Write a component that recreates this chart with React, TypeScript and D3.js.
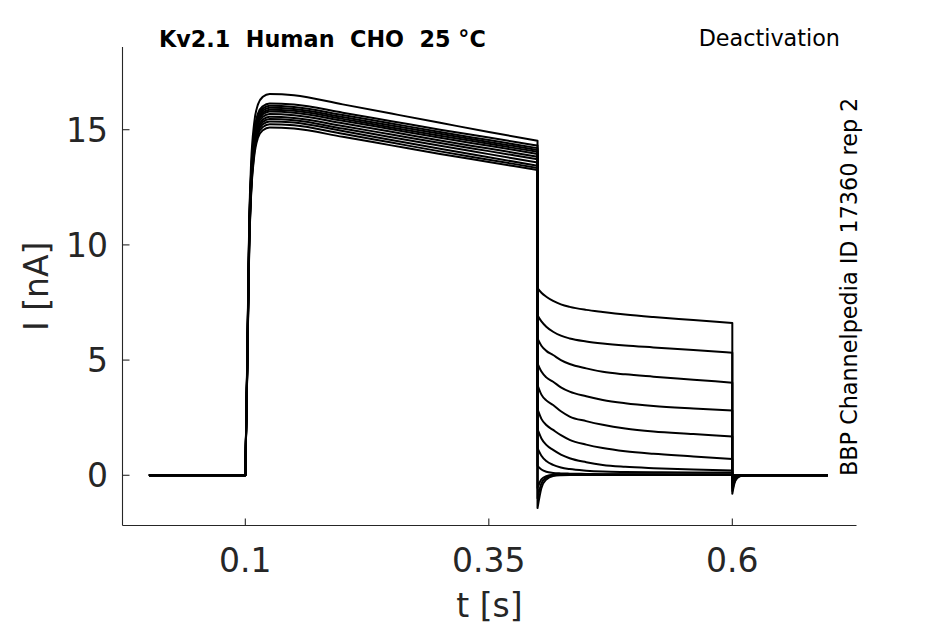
import * as d3 from 'd3';
import React from 'react';

// sweep protocol times (s)
const baseTimes = [0.001, 0.1];
const actTimes = [0.1, 0.102, 0.104, 0.106, 0.109, 0.113, 0.118, 0.125, 0.15, 0.2, 0.25, 0.3, 0.35, 0.4];
const tailTimes = [0.4, 0.404, 0.409, 0.416, 0.424, 0.433, 0.45, 0.467, 0.49, 0.519, 0.56, 0.6];
const postTimes = [0.6, 0.602, 0.605, 0.61, 0.62, 0.698];

// currents in nA, one row per sweep
const baseCurrents = [0, 0];
const actCurrents = [
  [0, 5.2, 11.0, 13.6, 15.25, 16.1, 16.43, 16.55, 16.5, 16.1, 15.7, 15.3, 14.9, 14.52],
  [0, 5.0, 10.8, 13.2, 14.85, 15.7, 16.02, 16.14, 16.09, 15.74, 15.37, 15.0, 14.66, 14.31],
  [0, 5.0, 10.7, 13.1, 14.75, 15.6, 15.92, 16.04, 15.99, 15.64, 15.27, 14.9, 14.55, 14.2],
  [0, 4.9, 10.6, 13.0, 14.65, 15.5, 15.83, 15.95, 15.9, 15.55, 15.18, 14.82, 14.47, 14.12],
  [0, 4.9, 10.5, 12.9, 14.57, 15.42, 15.75, 15.87, 15.82, 15.47, 15.1, 14.74, 14.39, 14.04],
  [0, 4.8, 10.4, 12.8, 14.49, 15.34, 15.67, 15.79, 15.74, 15.39, 15.02, 14.65, 14.3, 13.95],
  [0, 4.8, 10.3, 12.7, 14.38, 15.23, 15.56, 15.68, 15.63, 15.28, 14.91, 14.53, 14.18, 13.83],
  [0, 4.7, 10.2, 12.6, 14.26, 15.11, 15.44, 15.56, 15.51, 15.16, 14.79, 14.42, 14.07, 13.72],
  [0, 4.7, 10.1, 12.5, 14.16, 15.01, 15.34, 15.46, 15.41, 15.05, 14.67, 14.3, 13.94, 13.58],
  [0, 4.6, 10.0, 12.4, 14.06, 14.91, 15.24, 15.36, 15.31, 14.94, 14.55, 14.17, 13.8, 13.44],
  [0, 4.6, 9.9, 12.3, 13.94, 14.79, 15.12, 15.24, 15.19, 14.82, 14.44, 14.06, 13.7, 13.34],
  [0, 4.5, 9.8, 12.2, 13.8, 14.65, 14.98, 15.1, 15.05, 14.69, 14.32, 13.95, 13.6, 13.25],
];
const tailCurrents = [
  [8.12, 7.92, 7.75, 7.57, 7.42, 7.31, 7.18, 7.09, 6.98, 6.87, 6.74, 6.61],
  [6.95, 6.68, 6.45, 6.23, 6.06, 5.94, 5.81, 5.72, 5.63, 5.55, 5.44, 5.32],
  [5.94, 5.62, 5.4, 5.22, 5.0, 4.83, 4.64, 4.49, 4.38, 4.28, 4.15, 4.02],
  [4.86, 4.5, 4.25, 4.06, 3.82, 3.63, 3.43, 3.27, 3.13, 3.01, 2.9, 2.81],
  [3.92, 3.5, 3.25, 3.05, 2.78, 2.55, 2.35, 2.19, 2.03, 1.9, 1.79, 1.68],
  [2.87, 2.45, 2.18, 1.97, 1.74, 1.54, 1.33, 1.18, 1.04, 0.93, 0.82, 0.71],
  [2.0, 1.6, 1.32, 1.1, 0.9, 0.74, 0.57, 0.45, 0.37, 0.31, 0.25, 0.21],
  [1.18, 0.85, 0.62, 0.45, 0.34, 0.27, 0.2, 0.16, 0.14, 0.13, 0.12, 0.12],
  [0.41, 0.25, 0.15, 0.1, 0.08, 0.07, 0.06, 0.05, 0.05, 0.05, 0.05, 0.05],
  [-0.55, -0.18, -0.04, 0.02, 0.03, 0.03, 0.03, 0.03, 0.03, 0.03, 0.02, 0.02],
  [-1.0, -0.35, -0.1, 0.0, 0.02, 0.02, 0.02, 0.02, 0.02, 0.02, 0.02, 0.02],
  [-1.42, -0.55, -0.18, -0.03, 0.0, 0.01, 0.01, 0.01, 0.01, 0.01, 0.01, 0.01],
];
const postCurrents = [
  [-0.8, -0.38, -0.12, -0.02, 0, 0],
  [-0.68, -0.3, -0.1, -0.02, 0, 0],
  [-0.55, -0.25, -0.08, -0.01, 0, 0],
  [-0.42, -0.18, -0.06, 0, 0, 0],
  [-0.3, -0.12, -0.04, 0, 0, 0],
  [-0.2, -0.08, -0.02, 0, 0, 0],
  [-0.1, -0.04, 0, 0, 0, 0],
  [-0.05, -0.02, 0, 0, 0, 0],
  [0, 0, 0, 0, 0, 0],
  [0, 0, 0, 0, 0, 0],
  [0, 0, 0, 0, 0, 0],
  [0, 0, 0, 0, 0, 0],
];

const xTicks = [0.1, 0.35, 0.6];
const yTicks = [0, 5, 10, 15];

const W = 945;
const H = 624;
const left = 122.5;
const right = 856.5;
const top = 47;
const bottom = 525.5;
const axisColor = '#262626';
const font = '"DejaVu Sans", sans-serif';

const App: React.FC = () => {
  const x = d3.scaleLinear().domain([-0.0261, 0.7275]).range([left, right]);
  const y = d3.scaleLinear().domain([-2.18, 18.59]).range([bottom, top]);

  const line = d3
    .line<[number, number]>()
    .x((d) => x(d[0]))
    .y((d) => y(d[1]))
    .curve(d3.curveMonotoneX);

  const seg = (ts: number[], vs: number[]) =>
    line(ts.map((t, i) => [t, vs[i]] as [number, number])) || '';

  const paths = actCurrents.map((act, i) =>
    [
      seg(baseTimes, baseCurrents),
      seg(actTimes, act),
      seg(tailTimes, tailCurrents[i]),
      seg(postTimes, postCurrents[i]),
    ]
      .map((s, k) => (k ? s.replace(/^M/, 'L') : s))
      .join('')
  );

  return (
    <svg
      width={W}
      height={H}
      style={{ position: 'absolute', left: 0, top: 0, background: '#fff' }}
      fontFamily={font}
    >
      <rect width={W} height={H} fill="#fff" />
      <g fill="none" stroke="#000" strokeWidth={2} strokeLinejoin="round">
        {paths.map((d, i) => (
          <path key={i} d={d} />
        ))}
      </g>

      {/* axes */}
      <g stroke={axisColor} strokeWidth={1.1} fill="none">
        <line x1={left} x2={left} y1={top} y2={bottom} />
        <line x1={left} x2={right} y1={bottom} y2={bottom} />
        {yTicks.map((t) => (
          <line key={t} x1={left} x2={left + 7} y1={y(t)} y2={y(t)} />
        ))}
        {xTicks.map((t) => (
          <line key={t} x1={x(t)} x2={x(t)} y1={bottom} y2={bottom - 7} />
        ))}
      </g>
      <g fill={axisColor} fontSize={33}>
        {yTicks.map((t) => (
          <text key={t} x={108} y={y(t) + 12} textAnchor="end">
            {t}
          </text>
        ))}
        {xTicks.map((t) => (
          <text key={t} x={x(t)} y={572} textAnchor="middle">
            {t}
          </text>
        ))}
        <text x={(left + right) / 2} y={617} textAnchor="middle">
          t [s]
        </text>
        <text
          transform={`translate(48,${(top + bottom) / 2}) rotate(-90)`}
          textAnchor="middle"
        >
          I [nA]
        </text>
      </g>

      <text
        x={159}
        y={47}
        fontSize={22.3}
        fontWeight="bold"
        fill="#000"
        style={{ whiteSpace: 'pre' }}
      >
        {'Kv2.1  Human  CHO  25 °C'}
      </text>
      <text x={840} y={46} fontSize={22.3} textAnchor="end" fill="#000">
        Deactivation
      </text>
      <text transform="translate(857,476) rotate(-90)" fontSize={22.3} fill="#000">
        BBP Channelpedia ID 17360 rep 2
      </text>
    </svg>
  );
};

export default App;
